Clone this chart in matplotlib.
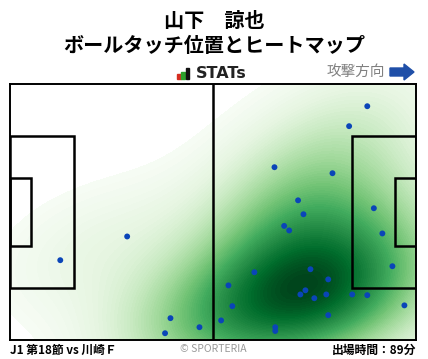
import numpy as np
import matplotlib
matplotlib.use("Agg")
import matplotlib.pyplot as plt
from matplotlib.patches import Rectangle, FancyArrow

plt.rcParams['font.family'] = ['Noto Sans CJK JP', 'DejaVu Sans']

title_name = "山下　諒也"
title_sub = "ボールタッチ位置とヒートマップ"
match_label = "J1 第18節 vs 川崎Ｆ"
minutes_label = "出場時間：89分"
credit = "© SPORTERIA"
direction_label = "攻撃方向"

touch_x = [92.4, 87.7, 68.4, 83.4, 74.5, 75.9, 94.1, 70.9, 72.2, 96.3, 98.9,
           63.2, 77.7, 82.3, 56.5, 76.4, 75.1, 78.7, 81.8, 88.5, 92.4, 57.5,
           102.0, 82.3, 54.6, 68.6, 68.6, 49.0, 30.3, 13.0, 41.5, 40.1]
touch_y = [62.1, 56.8, 45.9, 44.3, 37.1, 33.4, 35.0, 30.3, 29.1, 28.3, 19.6,
           18.0, 18.8, 16.1, 14.5, 13.2, 12.1, 11.1, 12.1, 12.1, 11.9, 9.0,
           9.2, 6.6, 5.2, 3.4, 2.4, 3.4, 27.5, 21.2, 5.8, 1.8]

W, H = 428, 359
fig = plt.figure(figsize=(W / 100, H / 100), dpi=100)
ax = fig.add_axes([10 / W, (H - 340) / H, 406 / W, 256 / H])
L, Wd = 105.0, 68.0
ax.set_xlim(0, L)
ax.set_ylim(0, Wd)

# KDE heatmap
pts = np.vstack([touch_x, touch_y])
n = pts.shape[1]
cov = np.cov(pts) * (n ** (-1.0 / 6)) ** 2 * 2.2
inv = np.linalg.inv(cov)
gx = np.linspace(0, L, 300)
gy = np.linspace(0, Wd, 200)
GX, GY = np.meshgrid(gx, gy)
Z = np.zeros_like(GX)
for px, py in zip(touch_x, touch_y):
    dx = GX - px
    dy = GY - py
    Z += np.exp(-0.5 * (inv[0, 0] * dx * dx + 2 * inv[0, 1] * dx * dy + inv[1, 1] * dy * dy))
Z /= Z.max()
levels = np.linspace(0.05, 1.0, 80)
ax.contourf(GX, GY, Z, levels=levels, cmap='Greens', extend='max', zorder=1)

# pitch lines
lw = 1.8
lc = 'black'
ax.plot([L / 2, L / 2], [0, Wd], color=lc, lw=lw, zorder=3)
pb_d, pb_w = 16.5, 40.3
ga_d, ga_w = 5.5, 18.3
ax.add_patch(Rectangle((0, (Wd - pb_w) / 2), pb_d, pb_w, fill=False, ec=lc, lw=lw, zorder=3))
ax.add_patch(Rectangle((0, (Wd - ga_w) / 2), ga_d, ga_w, fill=False, ec=lc, lw=lw, zorder=3))
ax.add_patch(Rectangle((L - pb_d, (Wd - pb_w) / 2), pb_d, pb_w, fill=False, ec=lc, lw=lw, zorder=3))
ax.add_patch(Rectangle((L - ga_d, (Wd - ga_w) / 2), ga_d, ga_w, fill=False, ec=lc, lw=lw, zorder=3))
for s in ax.spines.values():
    s.set_linewidth(1.4)
    s.set_color('black')
    s.set_zorder(4)
ax.set_xticks([])
ax.set_yticks([])

ax.scatter(touch_x, touch_y, s=18, color='#0a45b8', edgecolors='none', zorder=5)

# titles
fig.text(214 / W, 1 - 20 / H, title_name, ha='center', va='center', fontsize=14.5, fontweight='bold')
fig.text(214 / W, 1 - 46 / H, title_sub, ha='center', va='center', fontsize=14.5, fontweight='bold')

# STATs logo
for i, (c, h) in enumerate([('#d62d20', 5), ('#2ca02c', 7), ('#111111', 11)]):
    fig.patches.append(Rectangle(((177 + i * 4.3) / W, (H - 79) / H), 3.5 / W, h / H,
                                 transform=fig.transFigure, color=c))
fig.text(196 / W, 1 - 74 / H, "STATs", ha='left', va='center', fontsize=11.5,
         fontweight='bold', color='#222222', family=['DejaVu Sans'])

# attack direction
fig.text(385 / W, 1 - 72 / H, direction_label, ha='right', va='center', fontsize=10.5, color='#808080')
fig.patches.append(FancyArrow(390 / W, (H - 72) / H, 14 / W, 0, width=8 / H,
                              head_width=16 / H, head_length=10 / W, length_includes_head=False,
                              transform=fig.transFigure, color='#1f4fa8'))

# footer
fig.text(10 / W, 1 - 350 / H, match_label, ha='left', va='center', fontsize=8.5, fontweight='bold')
fig.text(213 / W, 1 - 349 / H, credit, ha='center', va='center', fontsize=7.5, color='#999999')
fig.text(416 / W, 1 - 350 / H, minutes_label, ha='right', va='center', fontsize=8.5, fontweight='bold')

fig.savefig('out.png', dpi=100)
